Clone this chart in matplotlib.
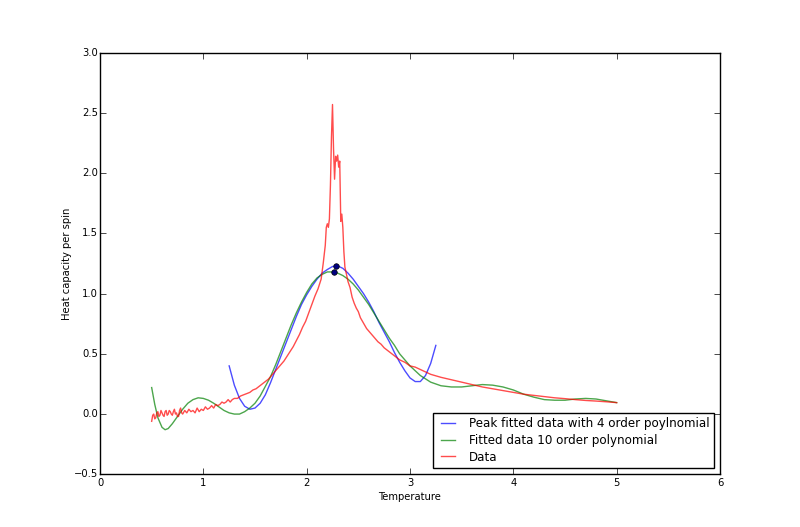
import numpy as np
import matplotlib
matplotlib.use("Agg")
import matplotlib.pyplot as plt

# Datos medidos: capacidad calorífica por espín vs temperatura
temp_data = [0.50, 0.51, 0.52, 0.53, 0.54, 0.55, 0.56, 0.57, 0.58, 0.59,
             0.60, 0.61, 0.62, 0.63, 0.64, 0.65, 0.66, 0.67, 0.68, 0.69,
             0.70, 0.71, 0.72, 0.73, 0.74, 0.75, 0.76, 0.77, 0.78, 0.79,
             0.80, 0.82, 0.84, 0.86, 0.88,
             0.90, 0.92, 0.94, 0.96, 0.98, 1.00, 1.02, 1.04, 1.06, 1.08,
             1.10, 1.12, 1.14, 1.16, 1.18, 1.20, 1.22, 1.24, 1.26, 1.28,
             1.30, 1.33, 1.36, 1.39, 1.42, 1.45, 1.48, 1.51, 1.54, 1.57,
             1.60, 1.63, 1.66, 1.69, 1.72, 1.75, 1.78, 1.81, 1.84, 1.87,
             1.90, 1.93, 1.96, 1.99, 2.02, 2.05, 2.08, 2.11, 2.14, 2.16,
             2.18, 2.19, 2.20, 2.21, 2.22, 2.23, 2.24, 2.25, 2.26, 2.27,
             2.28, 2.29, 2.30, 2.31, 2.32, 2.33, 2.34, 2.35, 2.36, 2.37,
             2.38, 2.40, 2.42, 2.44, 2.46, 2.48, 2.50, 2.52, 2.54, 2.56,
             2.58, 2.60, 2.63, 2.66, 2.69, 2.72, 2.75, 2.78, 2.81, 2.84,
             2.87, 2.90, 2.95, 3.00, 3.05, 3.10, 3.15, 3.20, 3.30, 3.40,
             3.50, 3.60, 3.70, 3.80, 3.90, 4.00, 4.10, 4.20, 4.30, 4.40,
             4.50, 4.60, 4.70, 4.80, 4.90, 5.00]
heat_data = [-0.06, -0.01, 0.00, -0.04, -0.03, 0.01, 0.02, -0.02, -0.01, 0.03,
             0.01, -0.01, -0.02, 0.02, 0.03, -0.01, 0.00, 0.03, 0.02, 0.00,
             -0.01, 0.02, 0.04, 0.00, 0.01, -0.02, -0.02, 0.03, 0.05, 0.01,
             0.00, 0.03, 0.01, 0.04, 0.02,
             0.03, 0.01, 0.05, 0.02, 0.04, 0.03, 0.06, 0.04, 0.05, 0.07,
             0.05, 0.08, 0.07, 0.08, 0.10, 0.09, 0.10, 0.12, 0.10, 0.12,
             0.13, 0.13, 0.15, 0.16, 0.17, 0.18, 0.20, 0.21, 0.23, 0.25,
             0.27, 0.29, 0.32, 0.35, 0.38, 0.41, 0.44, 0.48, 0.52, 0.56,
             0.61, 0.66, 0.72, 0.77, 0.84, 0.91, 0.98, 1.04, 1.12, 1.25,
             1.40, 1.55, 1.58, 1.55, 1.62, 1.90, 2.30, 2.57, 2.20, 1.95,
             2.14, 2.10, 2.15, 2.05, 2.10, 1.60, 1.66, 1.55, 1.35, 1.22,
             1.18, 1.10, 1.05, 0.97, 0.92, 0.88, 0.85, 0.80, 0.77, 0.74,
             0.71, 0.69, 0.66, 0.63, 0.60, 0.58, 0.55, 0.53, 0.51, 0.49,
             0.47, 0.45, 0.43, 0.40, 0.39, 0.37, 0.35, 0.33, 0.305, 0.285,
             0.265, 0.245, 0.225, 0.21, 0.195, 0.18, 0.165, 0.155, 0.145, 0.135,
             0.128, 0.12, 0.113, 0.108, 0.102, 0.095]

# Ajuste de 4to orden alrededor del pico
temp_peak = [1.25, 1.30, 1.35, 1.40, 1.45, 1.50, 1.55, 1.60, 1.65, 1.70,
             1.75, 1.80, 1.85, 1.90, 1.95, 2.00, 2.05, 2.10, 2.15, 2.20,
             2.25, 2.30, 2.35, 2.40, 2.45, 2.50, 2.55, 2.60, 2.65, 2.70,
             2.75, 2.80, 2.85, 2.90, 2.95, 3.00, 3.05, 3.10, 3.15, 3.20, 3.25]
heat_peak = [0.40, 0.24, 0.13, 0.065, 0.04, 0.05, 0.09, 0.16, 0.26, 0.37,
             0.48, 0.59, 0.70, 0.81, 0.91, 0.99, 1.06, 1.12, 1.17, 1.20,
             1.225, 1.23, 1.21, 1.17, 1.12, 1.06, 1.00, 0.93, 0.85, 0.76,
             0.68, 0.60, 0.51, 0.43, 0.36, 0.30, 0.27, 0.27, 0.32, 0.42, 0.57]

# Ajuste de 10mo orden sobre todo el rango
temp_fit = [0.50, 0.53, 0.56, 0.60, 0.63, 0.66, 0.70, 0.75, 0.80, 0.85,
            0.90, 0.95, 1.00, 1.05, 1.10, 1.15, 1.20, 1.25, 1.30, 1.35,
            1.40, 1.45, 1.50, 1.55, 1.60, 1.65, 1.70, 1.75, 1.80, 1.85,
            1.90, 1.95, 2.00, 2.05, 2.10, 2.15, 2.20, 2.25, 2.30, 2.35,
            2.40, 2.45, 2.50, 2.55, 2.60, 2.65, 2.70, 2.75, 2.80, 2.85,
            2.90, 2.95, 3.00, 3.10, 3.20, 3.30, 3.40, 3.50, 3.60, 3.70,
            3.80, 3.90, 4.00, 4.10, 4.20, 4.30, 4.40, 4.50, 4.60, 4.70,
            4.80, 4.90, 5.00]
heat_fit = [0.22, 0.08, -0.03, -0.11, -0.13, -0.12, -0.08, -0.02, 0.04, 0.09,
            0.12, 0.135, 0.13, 0.115, 0.09, 0.06, 0.03, 0.01, 0.00, 0.00,
            0.02, 0.05, 0.09, 0.15, 0.23, 0.31, 0.41, 0.52, 0.63, 0.74,
            0.84, 0.93, 1.01, 1.08, 1.13, 1.16, 1.18, 1.18, 1.17, 1.15,
            1.12, 1.08, 1.03, 0.97, 0.91, 0.84, 0.77, 0.70, 0.63, 0.57,
            0.50, 0.45, 0.40, 0.32, 0.265, 0.235, 0.225, 0.225, 0.235, 0.245,
            0.24, 0.225, 0.20, 0.165, 0.14, 0.12, 0.115, 0.115, 0.125, 0.13,
            0.125, 0.11, 0.095]

# Máximos de cada ajuste
peak_max = (2.28, 1.23)
fit_max = (2.26, 1.18)

plt.style.use("classic")
plt.rcParams["font.size"] = 7.2
plt.rcParams["xtick.major.pad"] = 2.5
plt.rcParams["ytick.major.pad"] = 1.5
fig = plt.figure(figsize=(8, 5.27), dpi=100, facecolor="white")
ax = fig.add_subplot(111)

l1, = ax.plot(temp_peak, heat_peak, color="b", alpha=0.7,
              label="Peak fitted data with 4 order poylnomial")
l2, = ax.plot(temp_fit, heat_fit, color="g", alpha=0.7,
              label="Fitted data 10 order polynomial")
l3, = ax.plot(temp_data, heat_data, color="r", alpha=0.7, label="Data")
ax.plot([peak_max[0]], [peak_max[1]], "o", color="#000080", ms=4, mec="k")
ax.plot([fit_max[0]], [fit_max[1]], "o", color="#000080", ms=4, mec="k")

ax.set_xlim(0, 6)
ax.set_ylim(-0.5, 3.0)
ax.set_xlabel("Temperature", labelpad=3)
ax.set_ylabel("Heat capacity per spin", labelpad=1.5)
ax.legend(handles=[l1, l2, l3], loc="lower right", fontsize=8.6,
          labelspacing=0.3, handlelength=1.8)

fig.savefig("out.png", dpi=100, facecolor="white")
